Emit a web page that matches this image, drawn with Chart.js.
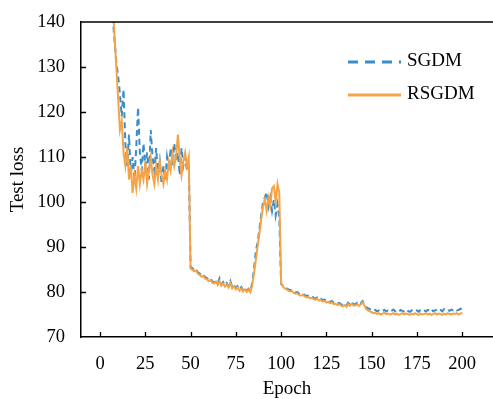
<!DOCTYPE html>
<html>
<head>
<meta charset="utf-8">
<script src="https://cdn.jsdelivr.net/npm/chart.js@4.4.1/dist/chart.umd.min.js"></script>
<style>
  html, body { margin: 0; padding: 0; background: #ffffff; }
  #wrap { width: 493px; height: 399px; position: relative; }
</style>
</head>
<body>
<div id="wrap"><canvas id="c"></canvas></div>
<script>
// ---- Data ----
const seriesNames = ["SGDM", "RSGDM"];
const xTickValues = [0, 25, 50, 75, 100, 125, 150, 175, 200];
const yTickValues = [70, 80, 90, 100, 110, 120, 130, 140];

const sgdm = [
  230, 195, 172, 160, 152, 146, 141, 136, 131, 128,
  124, 119, 125, 113, 108, 115, 106, 110, 105, 112,
  121, 111, 107, 113, 108, 111, 105, 116, 110, 107,
  112, 106, 109, 104, 108, 105, 110, 107, 112, 108,
  113, 109, 111, 106, 112, 108, 110, 107, 109, 85.6,
  85.3, 84.9, 85.1, 84.4, 84.1, 83.7, 83.9, 83.3, 83.1, 82.7,
  83.0, 82.4, 82.1, 82.5, 81.9, 83.0, 81.7, 82.2, 81.5, 82.0,
  81.3, 82.4, 81.1, 81.6, 80.9, 81.3, 80.6, 81.1, 80.4, 80.9,
  80.3, 80.7, 80.2, 82.0, 85.0, 89.0, 91.0, 94.0, 97.0, 100.0,
  101.0, 102.2, 99.0, 101.0, 98.0, 100.5, 97.0, 99.5, 96.5, 81.8,
  81.4, 81.0, 80.8, 80.6, 80.4, 80.5, 80.1, 79.9, 80.0, 79.6,
  79.5, 79.7, 79.3, 79.1, 79.2, 78.9, 79.0, 78.7, 78.6, 78.8,
  78.4, 78.5, 78.2, 78.3, 78.0, 78.1, 77.8, 78.0, 77.6, 77.7,
  77.4, 77.6, 77.3, 77.1, 77.4, 77.0, 77.6, 77.2, 77.7, 77.3,
  77.3, 77.6, 77.2, 77.5, 78.0, 77.3, 76.6, 76.4, 76.2, 76.0,
  75.8, 76.0, 75.7, 75.9, 75.6, 75.8, 76.0, 75.7, 75.9, 75.6,
  75.8, 76.1, 75.7, 75.9, 75.6, 76.0, 75.8, 75.7, 76.1, 75.8,
  75.6, 75.9, 76.0, 75.7, 75.9, 75.6, 76.1, 75.8, 75.9, 75.7,
  76.0, 75.8, 76.2, 75.7, 75.9, 76.1, 75.8, 76.0, 75.7, 76.2,
  75.9, 76.0, 75.8, 76.1, 75.9, 76.2, 75.9, 76.0, 76.3, 76.1
];

const rsgdm = [
  235, 200, 175, 162, 154, 148, 144, 137, 130, 123,
  116, 118, 111, 108, 112, 105, 108, 102, 106, 103,
  108, 104, 107, 105, 109, 104, 107, 110, 106, 104,
  108, 105, 109, 106, 104, 107, 105, 109, 107, 111,
  108, 110, 115, 110, 106, 109, 111, 108, 110, 85.2,
  85.0, 84.6, 84.8, 84.1, 83.8, 83.4, 83.6, 83.0, 82.8, 82.4,
  82.7, 82.1, 81.9, 82.3, 81.6, 82.4, 81.4, 81.9, 81.2, 81.7,
  81.0, 82.0, 80.8, 81.3, 80.6, 81.0, 80.3, 80.8, 80.1, 80.6,
  80.0, 80.5, 79.9, 81.5, 84.0, 87.0, 90.0, 93.0, 96.0, 99.0,
  100.5, 98.0, 101.0, 99.0, 103.0, 103.5, 100.0, 104.0, 102.0, 82.0,
  81.2, 80.8, 80.6, 80.3, 80.1, 80.2, 79.8, 79.6, 79.7, 79.3,
  79.2, 79.4, 79.0, 78.8, 78.9, 78.6, 78.7, 78.4, 78.3, 78.5,
  78.1, 78.2, 77.9, 78.0, 77.7, 77.8, 77.5, 77.7, 77.3, 77.4,
  77.1, 77.3, 77.0, 76.8, 77.1, 76.7, 77.3, 76.9, 77.4, 77.0,
  77.0, 77.3, 76.9, 77.2, 77.8, 77.0, 76.2, 75.9, 75.7, 75.5,
  75.3, 75.4, 75.1, 75.3, 75.0, 75.2, 75.4, 75.1, 75.2, 75.0,
  75.1, 75.3, 75.0, 75.2, 74.9, 75.1, 75.3, 75.0, 75.2, 75.1,
  74.9, 75.2, 75.0, 75.3, 75.1, 74.9, 75.2, 75.0, 75.1, 75.3,
  75.0, 75.2, 74.9, 75.1, 75.3, 75.0, 75.2, 75.1, 74.9, 75.2,
  75.0, 75.3, 75.1, 75.0, 75.2, 75.1, 75.3, 75.0, 75.2, 75.4
];

const epochs = sgdm.map((_, i) => i + 1);

// ---- Styling ----
const BLUE = "#3a8cca";
const ORANGE = "#f4a447";
const FONT = "'Liberation Serif', 'Times New Roman', serif";

const toPoints = (arr) => arr.map((v, i) => ({ x: epochs[i], y: v }));

// inward ticks + top border
const frameTicks = {
  id: 'frameTicks',
  afterDraw(chart) {
    const { ctx, chartArea: a, scales: { x, y } } = chart;
    ctx.save();
    ctx.strokeStyle = '#000';
    ctx.lineWidth = 1.5;
    ctx.beginPath();
    ctx.moveTo(a.left, a.top);
    ctx.lineTo(a.right, a.top);
    ctx.stroke();
    ctx.lineWidth = 1.3;
    ctx.beginPath();
    xTickValues.forEach(v => {
      const px = Math.round(x.getPixelForValue(v)) + 0.5;
      ctx.moveTo(px, a.bottom);
      ctx.lineTo(px, a.bottom - 5);
    });
    yTickValues.forEach(v => {
      if (v === 70 || v === 140) return;
      const py = Math.round(y.getPixelForValue(v)) + 0.5;
      ctx.moveTo(a.left, py);
      ctx.lineTo(a.left + 5, py);
    });
    ctx.stroke();
    ctx.restore();
  }
};

// legend drawn inside chart area
const insideLegend = {
  id: 'insideLegend',
  afterDraw(chart) {
    const { ctx, chartArea: a } = chart;
    const order = [0, 1];
    ctx.save();
    ctx.font = "19px " + FONT;
    ctx.textBaseline = 'middle';
    ctx.fillStyle = '#000';
    order.forEach((di, row) => {
      const ds = chart.data.datasets[di];
      const yy = a.top + 40 + row * 33;
      const x0 = a.left + 267, x1 = a.left + 320;
      ctx.strokeStyle = ds.borderColor;
      ctx.lineWidth = 3;
      ctx.setLineDash(ds.borderDash && ds.borderDash.length ? [10, 7] : []);
      ctx.beginPath();
      ctx.moveTo(x0, yy);
      ctx.lineTo(x1, yy);
      ctx.stroke();
      ctx.setLineDash([]);
      ctx.fillText(ds.label, a.left + 326, yy - 1);
    });
    ctx.restore();
  }
};

new Chart(document.getElementById('c'), {
  type: 'line',
  data: {
    datasets: [
      {
        label: seriesNames[0],
        data: toPoints(sgdm),
        borderColor: BLUE,
        borderWidth: 2,
        borderDash: [6, 4],
        pointRadius: 0,
        tension: 0,
        fill: false,
        order: 2
      },
      {
        label: seriesNames[1],
        data: toPoints(rsgdm),
        borderColor: ORANGE,
        borderWidth: 2,
        borderDash: [],
        pointRadius: 0,
        tension: 0,
        fill: false,
        order: 1
      }
    ]
  },
  options: {
    responsive: true,
    maintainAspectRatio: false,
    animation: false,
    layout: { padding: { top: 22, right: 0, left: 0, bottom: 0 } },
    plugins: {
      legend: { display: false },
      tooltip: { enabled: false }
    },
    scales: {
      x: {
        type: 'linear',
        min: -10.5,
        max: 217,
        afterBuildTicks(s) { s.ticks = xTickValues.map(v => ({ value: v })); },
        afterFit(s) { s.height = 62; s.paddingLeft = 0; s.paddingRight = 0; },
        grid: { display: true, drawOnChartArea: false, drawTicks: false },
        border: { display: true, color: '#000', width: 1.5 },
        ticks: {
          color: '#000',
          padding: 16,
          maxRotation: 0,
          autoSkip: false,
          font: { family: FONT, size: 18.5 }
        },
        title: {
          display: true,
          text: 'Epoch',
          color: '#000',
          padding: { top: 0, bottom: 0 },
          font: { family: FONT, size: 19, lineHeight: 1 }
        }
      },
      y: {
        min: 70,
        max: 140,
        afterBuildTicks(s) { s.ticks = yTickValues.map(v => ({ value: v })); },
        afterFit(s) { s.width = 81; s.paddingTop = 0; s.paddingBottom = 0; },
        grid: { display: true, drawOnChartArea: false, drawTicks: false },
        border: { display: true, color: '#000', width: 1.5 },
        ticks: {
          color: '#000',
          padding: 16,
          autoSkip: false,
          font: { family: FONT, size: 18.5 }
        },
        title: {
          display: true,
          text: 'Test loss',
          color: '#000',
          padding: { top: 8.5, bottom: 0 },
          font: { family: FONT, size: 19, lineHeight: 1 }
        }
      }
    }
  },
  plugins: [frameTicks, insideLegend]
});
</script>
</body>
</html>
